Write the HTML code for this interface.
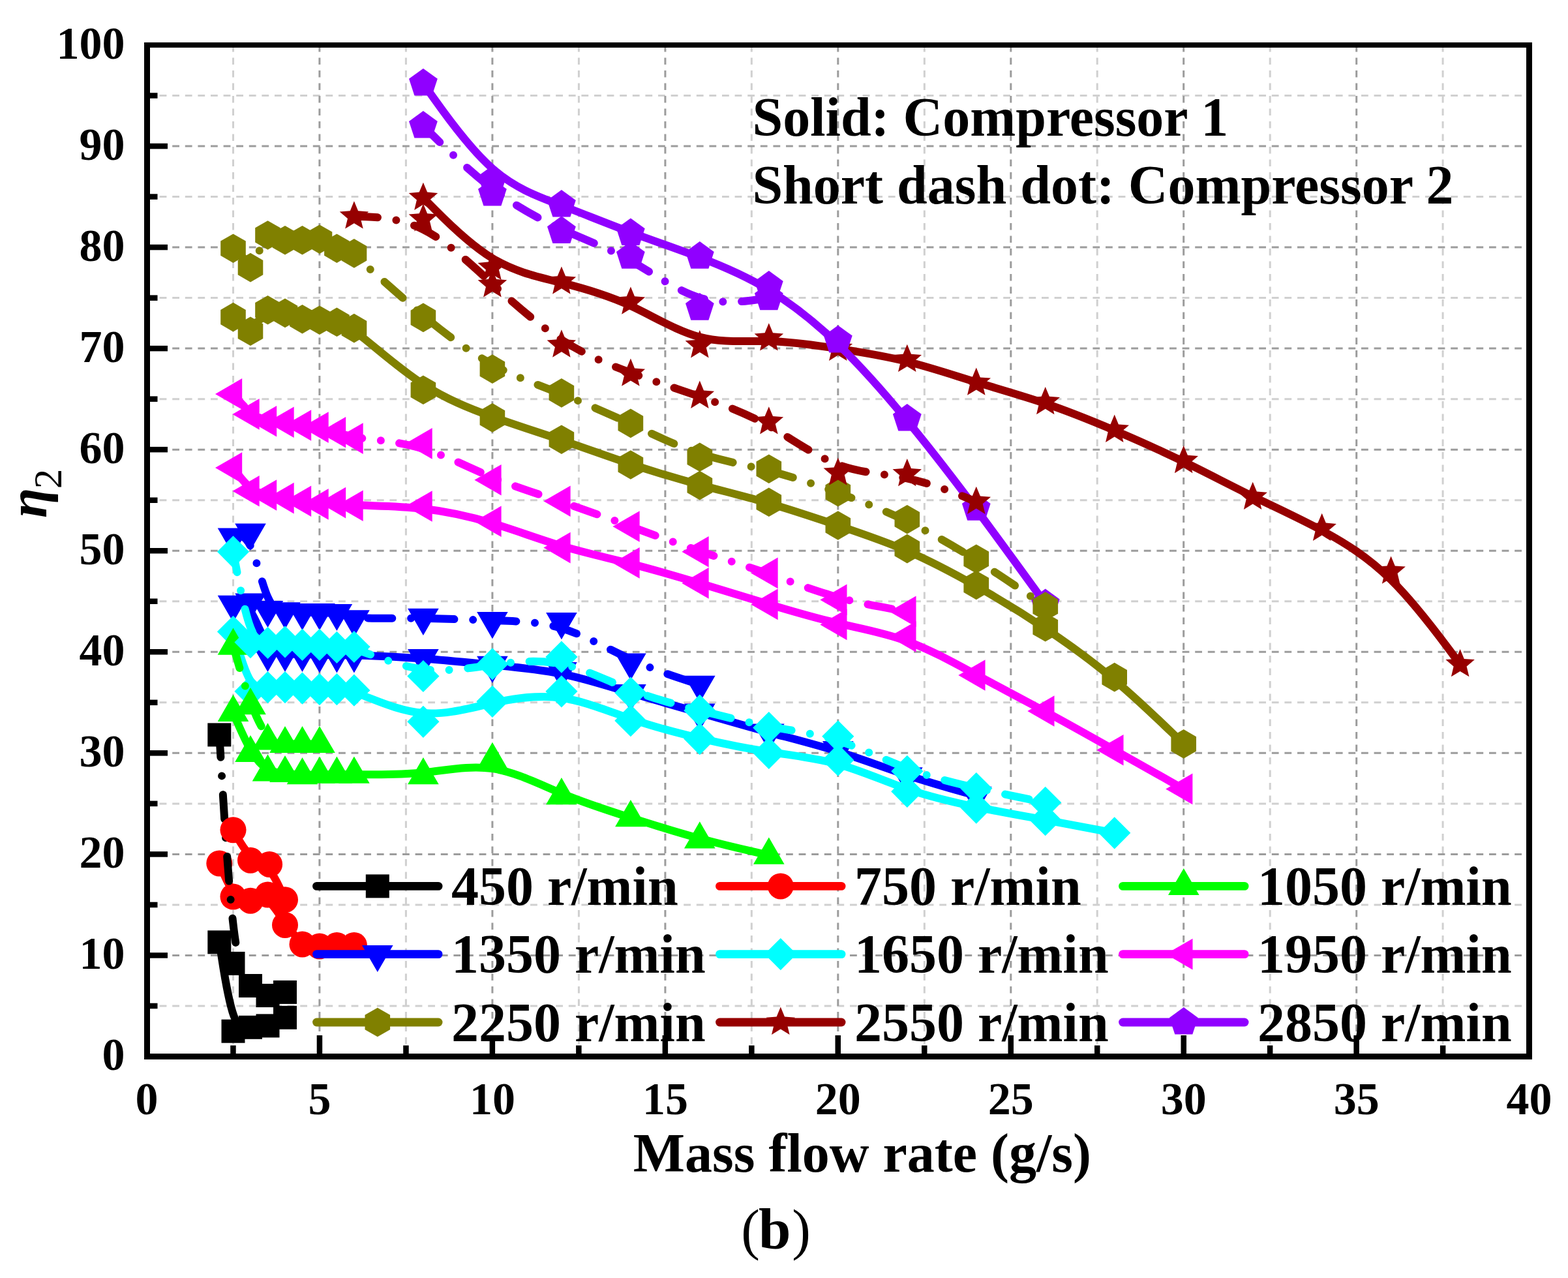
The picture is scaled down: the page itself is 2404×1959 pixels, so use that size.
<!DOCTYPE html>
<html><head><meta charset="utf-8"><title>Mass flow rate vs efficiency</title>
<style>html,body{margin:0;padding:0;background:#fff;} svg{display:block;}</style>
</head><body>
<svg width="2404" height="1959" viewBox="0 0 2404 1959">
<rect x="0" y="0" width="2404" height="1959" fill="#ffffff"/>
<g stroke="#d0d0d0" stroke-width="3"><g stroke-dasharray="10.6 8.9"><line x1="357.5" y1="69" x2="357.5" y2="1619.5"/><line x1="622.4" y1="69" x2="622.4" y2="1619.5"/><line x1="887.4" y1="69" x2="887.4" y2="1619.5"/><line x1="1152.3" y1="69" x2="1152.3" y2="1619.5"/><line x1="1417.3" y1="69" x2="1417.3" y2="1619.5"/><line x1="1682.2" y1="69" x2="1682.2" y2="1619.5"/><line x1="1947.2" y1="69" x2="1947.2" y2="1619.5"/><line x1="2212.1" y1="69" x2="2212.1" y2="1619.5"/></g><g stroke-dasharray="10.8 8.8"><line x1="225" y1="1542" x2="2345" y2="1542"/><line x1="225" y1="1386.9" x2="2345" y2="1386.9"/><line x1="225" y1="1231.9" x2="2345" y2="1231.9"/><line x1="225" y1="1076.8" x2="2345" y2="1076.8"/><line x1="225" y1="921.8" x2="2345" y2="921.8"/><line x1="225" y1="766.7" x2="2345" y2="766.7"/><line x1="225" y1="611.7" x2="2345" y2="611.7"/><line x1="225" y1="456.6" x2="2345" y2="456.6"/><line x1="225" y1="301.6" x2="2345" y2="301.6"/><line x1="225" y1="146.5" x2="2345" y2="146.5"/></g></g>
<g stroke="#9c9c9c" stroke-width="3"><g stroke-dasharray="10.6 8.9"><line x1="489.9" y1="69" x2="489.9" y2="1619.5"/><line x1="754.9" y1="69" x2="754.9" y2="1619.5"/><line x1="1019.9" y1="69" x2="1019.9" y2="1619.5"/><line x1="1284.8" y1="69" x2="1284.8" y2="1619.5"/><line x1="1549.8" y1="69" x2="1549.8" y2="1619.5"/><line x1="1814.7" y1="69" x2="1814.7" y2="1619.5"/><line x1="2079.7" y1="69" x2="2079.7" y2="1619.5"/></g><g stroke-dasharray="10.8 8.8"><line x1="225" y1="1464.5" x2="2345" y2="1464.5"/><line x1="225" y1="1309.4" x2="2345" y2="1309.4"/><line x1="225" y1="1154.3" x2="2345" y2="1154.3"/><line x1="225" y1="999.3" x2="2345" y2="999.3"/><line x1="225" y1="844.2" x2="2345" y2="844.2"/><line x1="225" y1="689.2" x2="2345" y2="689.2"/><line x1="225" y1="534.1" x2="2345" y2="534.1"/><line x1="225" y1="379.1" x2="2345" y2="379.1"/><line x1="225" y1="224" x2="2345" y2="224"/></g></g>
<path d="M336.3 1444.3C336.3 1444.3 336.3 1444.3 339.8 1467.0C343.3 1489.8 350.4 1535.3 358.4 1557.0C366.3 1578.8 375.1 1576.8 384.0 1575.4C392.8 1574.0 401.6 1573.2 410.5 1570.7C419.3 1568.2 428.1 1564.0 432.5 1561.9C437.0 1559.8 437.0 1559.8 437.0 1559.8" fill="none" stroke="#000000" stroke-width="12.0" stroke-linecap="round" stroke-linejoin="round"/>
<rect x="318.3" y="1426.3" width="36" height="36" fill="#000000"/>
<rect x="339.5" y="1562.7" width="36" height="36" fill="#000000"/>
<rect x="366" y="1556.8" width="36" height="36" fill="#000000"/>
<rect x="392.5" y="1554.4" width="36" height="36" fill="#000000"/>
<rect x="419" y="1541.8" width="36" height="36" fill="#000000"/>
<path d="M336.3 1323.4C336.3 1323.4 336.3 1323.4 339.8 1331.9C343.3 1340.4 350.4 1357.5 358.4 1367.0C366.3 1376.6 375.1 1378.7 384.0 1378.1C392.8 1377.6 401.6 1374.5 410.5 1380.7C419.3 1386.9 428.1 1402.4 437.0 1415.1C445.8 1427.8 454.6 1437.6 463.5 1443.0C472.3 1448.4 481.1 1449.5 489.9 1449.7C498.8 1450.0 507.6 1449.5 516.4 1449.2C525.3 1448.9 534.1 1448.9 538.5 1448.9C542.9 1448.9 542.9 1448.9 542.9 1448.9" fill="none" stroke="#ff0000" stroke-width="12.0" stroke-linecap="round" stroke-linejoin="round"/>
<circle cx="336.3" cy="1323.4" r="20" fill="#ff0000"/>
<circle cx="357.5" cy="1374.5" r="20" fill="#ff0000"/>
<circle cx="384" cy="1380.7" r="20" fill="#ff0000"/>
<circle cx="410.5" cy="1371.4" r="20" fill="#ff0000"/>
<circle cx="437" cy="1417.9" r="20" fill="#ff0000"/>
<circle cx="463.5" cy="1447.4" r="20" fill="#ff0000"/>
<circle cx="489.9" cy="1450.5" r="20" fill="#ff0000"/>
<circle cx="516.4" cy="1448.9" r="20" fill="#ff0000"/>
<circle cx="542.9" cy="1448.9" r="20" fill="#ff0000"/>
<path d="M357.5 1092.3C357.5 1092.3 357.5 1092.3 361.9 1102.7C366.3 1113.0 375.1 1133.7 384.0 1148.9C392.8 1164.2 401.6 1174.0 410.5 1179.2C419.3 1184.3 428.1 1184.8 437.0 1185.6C445.8 1186.4 454.6 1187.4 463.5 1187.7C472.3 1187.9 481.1 1187.4 489.9 1187.2C498.8 1186.9 507.6 1186.9 516.4 1186.9C525.3 1186.9 534.1 1186.9 556.2 1187.2C578.3 1187.4 613.6 1187.9 648.9 1184.3C684.2 1180.7 719.6 1173.0 754.9 1178.1C790.2 1183.3 825.6 1201.4 860.9 1216.1C896.2 1230.8 931.5 1242.2 966.9 1253.4C1002.2 1264.6 1037.5 1275.7 1072.8 1285.3C1108.2 1294.8 1143.5 1302.9 1161.2 1306.9C1178.8 1311.0 1178.8 1311.0 1178.8 1311.0" fill="none" stroke="#00ff00" stroke-width="12.0" stroke-linecap="round" stroke-linejoin="round"/>
<polygon points="357.5,1064.8 381.3,1106.1 333.7,1106.1" fill="#00ff00"/>
<polygon points="384,1126.9 407.8,1168.1 360.2,1168.1" fill="#00ff00"/>
<polygon points="410.5,1156.3 434.3,1197.6 386.7,1197.6" fill="#00ff00"/>
<polygon points="437,1157.9 460.8,1199.1 413.2,1199.1" fill="#00ff00"/>
<polygon points="463.5,1161 487.3,1202.2 439.7,1202.2" fill="#00ff00"/>
<polygon points="489.9,1159.4 513.8,1200.7 466.1,1200.7" fill="#00ff00"/>
<polygon points="516.4,1159.4 540.2,1200.7 492.6,1200.7" fill="#00ff00"/>
<polygon points="542.9,1159.4 566.7,1200.7 519.1,1200.7" fill="#00ff00"/>
<polygon points="648.9,1161 672.7,1202.2 625.1,1202.2" fill="#00ff00"/>
<polygon points="754.9,1137.7 778.7,1178.9 731.1,1178.9" fill="#00ff00"/>
<polygon points="860.9,1192 884.7,1233.2 837.1,1233.2" fill="#00ff00"/>
<polygon points="966.9,1226.1 990.7,1267.3 943.1,1267.3" fill="#00ff00"/>
<polygon points="1072.8,1259.3 1096.6,1300.5 1049,1300.5" fill="#00ff00"/>
<polygon points="1178.8,1283.5 1202.6,1324.7 1155,1324.7" fill="#00ff00"/>
<path d="M357.5 926.4C357.5 926.4 357.5 926.4 361.9 925.9C366.3 925.4 375.1 924.4 384.0 937.0C392.8 949.7 401.6 976.0 410.5 989.2C419.3 1002.4 428.1 1002.4 437.0 1002.4C445.8 1002.4 454.6 1002.4 463.5 1002.7C472.3 1002.9 481.1 1003.4 489.9 1003.7C498.8 1004.0 507.6 1004.0 516.4 1004.0C525.3 1004.0 534.1 1004.0 556.2 1004.7C578.3 1005.5 613.6 1007.1 648.9 1009.6C684.2 1012.2 719.6 1015.8 754.9 1019.2C790.2 1022.6 825.6 1025.7 860.9 1032.9C896.2 1040.1 931.5 1051.5 966.9 1062.1C1002.2 1072.7 1037.5 1082.5 1072.8 1092.6C1108.2 1102.7 1143.5 1113.0 1178.8 1122.6C1214.1 1132.1 1249.5 1140.9 1284.8 1152.0C1320.1 1163.1 1355.5 1176.6 1390.8 1188.2C1426.1 1199.8 1461.4 1209.7 1479.1 1214.6C1496.8 1219.5 1496.8 1219.5 1496.8 1219.5" fill="none" stroke="#0000ff" stroke-width="12.0" stroke-linecap="round" stroke-linejoin="round"/>
<polygon points="357.5,953.9 381.3,912.7 333.7,912.7" fill="#0000ff"/>
<polygon points="384,950.8 407.8,909.6 360.2,909.6" fill="#0000ff"/>
<polygon points="410.5,1029.9 434.3,988.7 386.7,988.7" fill="#0000ff"/>
<polygon points="437,1029.9 460.8,988.7 413.2,988.7" fill="#0000ff"/>
<polygon points="463.5,1029.9 487.3,988.7 439.7,988.7" fill="#0000ff"/>
<polygon points="489.9,1031.4 513.8,990.2 466.1,990.2" fill="#0000ff"/>
<polygon points="516.4,1031.4 540.2,990.2 492.6,990.2" fill="#0000ff"/>
<polygon points="542.9,1031.4 566.7,990.2 519.1,990.2" fill="#0000ff"/>
<polygon points="648.9,1036.1 672.7,994.9 625.1,994.9" fill="#0000ff"/>
<polygon points="754.9,1046.9 778.7,1005.7 731.1,1005.7" fill="#0000ff"/>
<polygon points="860.9,1056.2 884.7,1015 837.1,1015" fill="#0000ff"/>
<polygon points="966.9,1090.4 990.7,1049.1 943.1,1049.1" fill="#0000ff"/>
<polygon points="1072.8,1119.8 1096.6,1078.6 1049,1078.6" fill="#0000ff"/>
<polygon points="1178.8,1150.8 1202.6,1109.6 1155,1109.6" fill="#0000ff"/>
<polygon points="1284.8,1177.2 1308.6,1136 1261,1136" fill="#0000ff"/>
<polygon points="1390.8,1217.5 1414.6,1176.3 1367,1176.3" fill="#0000ff"/>
<polygon points="1496.8,1247 1520.6,1205.7 1473,1205.7" fill="#0000ff"/>
<path d="M357.5 968.3C357.5 968.3 357.5 968.3 361.9 983.5C366.3 998.8 375.1 1029.3 384.0 1043.5C392.8 1057.7 401.6 1055.6 410.5 1054.6C419.3 1053.6 428.1 1053.6 437.0 1053.8C445.8 1054.1 454.6 1054.6 463.5 1055.1C472.3 1055.6 481.1 1056.2 489.9 1056.4C498.8 1056.7 507.6 1056.7 516.4 1056.9C525.3 1057.2 534.1 1057.7 556.2 1066.0C578.3 1074.2 613.6 1090.3 648.9 1093.1C684.2 1095.9 719.6 1085.6 754.9 1077.9C790.2 1070.1 825.6 1064.9 860.9 1069.8C896.2 1074.8 931.5 1089.7 966.9 1101.9C1002.2 1114.0 1037.5 1123.3 1072.8 1131.6C1108.2 1139.9 1143.5 1147.1 1178.8 1152.5C1214.1 1158.0 1249.5 1161.6 1284.8 1171.4C1320.1 1181.2 1355.5 1197.2 1390.8 1209.4C1426.1 1221.5 1461.4 1229.8 1496.8 1237.0C1532.1 1244.3 1567.4 1250.5 1602.7 1256.9C1638.1 1263.4 1673.4 1270.1 1691.1 1273.5C1708.7 1276.8 1708.7 1276.8 1708.7 1276.8" fill="none" stroke="#00ffff" stroke-width="12.0" stroke-linecap="round" stroke-linejoin="round"/>
<polygon points="357.5,943.7 382.1,968.3 357.5,992.9 332.9,968.3" fill="#00ffff"/>
<polygon points="384,1035.2 408.6,1059.8 384,1084.4 359.4,1059.8" fill="#00ffff"/>
<polygon points="410.5,1029 435.1,1053.6 410.5,1078.2 385.9,1053.6" fill="#00ffff"/>
<polygon points="437,1029 461.6,1053.6 437,1078.2 412.4,1053.6" fill="#00ffff"/>
<polygon points="463.5,1030.5 488.1,1055.1 463.5,1079.7 438.9,1055.1" fill="#00ffff"/>
<polygon points="489.9,1032.1 514.5,1056.7 489.9,1081.3 465.3,1056.7" fill="#00ffff"/>
<polygon points="516.4,1032.1 541,1056.7 516.4,1081.3 491.8,1056.7" fill="#00ffff"/>
<polygon points="542.9,1033.6 567.5,1058.2 542.9,1082.8 518.3,1058.2" fill="#00ffff"/>
<polygon points="648.9,1081.7 673.5,1106.3 648.9,1130.9 624.3,1106.3" fill="#00ffff"/>
<polygon points="754.9,1050.7 779.5,1075.3 754.9,1099.9 730.3,1075.3" fill="#00ffff"/>
<polygon points="860.9,1035.2 885.5,1059.8 860.9,1084.4 836.3,1059.8" fill="#00ffff"/>
<polygon points="966.9,1080.1 991.5,1104.7 966.9,1129.3 942.3,1104.7" fill="#00ffff"/>
<polygon points="1072.8,1108 1097.4,1132.6 1072.8,1157.2 1048.2,1132.6" fill="#00ffff"/>
<polygon points="1178.8,1129.8 1203.4,1154.3 1178.8,1178.9 1154.2,1154.3" fill="#00ffff"/>
<polygon points="1284.8,1140.6 1309.4,1165.2 1284.8,1189.8 1260.2,1165.2" fill="#00ffff"/>
<polygon points="1390.8,1188.7 1415.4,1213.3 1390.8,1237.9 1366.2,1213.3" fill="#00ffff"/>
<polygon points="1496.8,1213.5 1521.4,1238.1 1496.8,1262.7 1472.2,1238.1" fill="#00ffff"/>
<polygon points="1602.7,1232.1 1627.3,1256.7 1602.7,1281.3 1578.1,1256.7" fill="#00ffff"/>
<polygon points="1708.7,1252.2 1733.3,1276.8 1708.7,1301.4 1684.1,1276.8" fill="#00ffff"/>
<path d="M357.5 717.1C357.5 717.1 357.5 717.1 361.9 723.1C366.3 729.0 375.1 740.9 384.0 747.9C392.8 754.8 401.6 756.9 410.5 758.7C419.3 760.5 428.1 762.1 437.0 763.6C445.8 765.2 454.6 766.7 463.5 768.3C472.3 769.8 481.1 771.4 489.9 771.8C498.8 772.2 507.6 771.4 516.4 771.8C525.3 772.2 534.1 773.7 556.2 774.6C578.3 775.5 613.6 775.8 648.9 779.8C684.2 783.8 719.6 791.5 754.9 802.1C790.2 812.7 825.6 826.2 860.9 836.8C896.2 847.4 931.5 855.1 966.9 864.1C1002.2 873.2 1037.5 883.5 1072.8 894.1C1108.2 904.7 1143.5 915.6 1178.8 926.2C1214.1 936.8 1249.5 947.1 1284.8 955.4C1320.1 963.6 1355.5 969.8 1390.8 982.8C1426.1 995.7 1461.4 1015.3 1496.8 1034.3C1532.1 1053.3 1567.4 1071.7 1602.7 1090.8C1638.1 1109.9 1673.4 1129.8 1708.7 1149.7C1744.0 1169.6 1779.4 1189.5 1797.0 1199.4C1814.7 1209.4 1814.7 1209.4 1814.7 1209.4" fill="none" stroke="#ff00ff" stroke-width="12.0" stroke-linecap="round" stroke-linejoin="round"/>
<polygon points="330,717.1 371.2,693.3 371.2,740.9" fill="#ff00ff"/>
<polygon points="356.5,752.8 397.7,729 397.7,776.6" fill="#ff00ff"/>
<polygon points="383,759 424.2,735.2 424.2,782.8" fill="#ff00ff"/>
<polygon points="409.5,763.6 450.7,739.8 450.7,787.4" fill="#ff00ff"/>
<polygon points="436,768.3 477.2,744.5 477.2,792.1" fill="#ff00ff"/>
<polygon points="462.5,772.9 503.7,749.1 503.7,796.7" fill="#ff00ff"/>
<polygon points="489,770.6 530.2,746.8 530.2,794.4" fill="#ff00ff"/>
<polygon points="515.5,775.3 556.7,751.5 556.7,799.1" fill="#ff00ff"/>
<polygon points="621.4,776 662.7,752.2 662.7,799.8" fill="#ff00ff"/>
<polygon points="727.4,799.3 768.6,775.5 768.6,823.1" fill="#ff00ff"/>
<polygon points="833.4,839.6 874.6,815.8 874.6,863.4" fill="#ff00ff"/>
<polygon points="939.4,862.9 980.6,839.1 980.6,886.7" fill="#ff00ff"/>
<polygon points="1045.4,893.9 1086.6,870.1 1086.6,917.7" fill="#ff00ff"/>
<polygon points="1151.3,926.4 1192.6,902.6 1192.6,950.2" fill="#ff00ff"/>
<polygon points="1257.3,957.4 1298.5,933.6 1298.5,981.2" fill="#ff00ff"/>
<polygon points="1363.3,976 1404.5,952.2 1404.5,999.8" fill="#ff00ff"/>
<polygon points="1469.3,1035 1510.5,1011.2 1510.5,1058.8" fill="#ff00ff"/>
<polygon points="1575.3,1090 1616.5,1066.2 1616.5,1113.8" fill="#ff00ff"/>
<polygon points="1681.2,1149.7 1722.5,1125.9 1722.5,1173.5" fill="#ff00ff"/>
<polygon points="1787.2,1209.4 1828.4,1185.6 1828.4,1233.2" fill="#ff00ff"/>
<path d="M357.5 486.1C357.5 486.1 357.5 486.1 361.9 489.7C366.3 493.3 375.1 500.6 384.0 498.7C392.8 496.9 401.6 486.1 410.5 481.4C419.3 476.8 428.1 478.3 437.0 480.7C445.8 483.0 454.6 486.1 463.5 487.9C472.3 489.7 481.1 490.2 489.9 491.0C498.8 491.8 507.6 492.8 516.4 494.9C525.3 496.9 534.1 500.0 556.2 517.4C578.3 534.7 613.6 566.2 648.9 589.1C684.2 611.9 719.6 626.1 754.9 638.8C790.2 651.5 825.6 662.6 860.9 674.6C896.2 686.6 931.5 699.5 966.9 711.3C1002.2 723.0 1037.5 733.5 1072.8 743.1C1108.2 752.7 1143.5 761.2 1178.8 771.5C1214.1 781.7 1249.5 793.6 1284.8 805.5C1320.1 817.4 1355.5 829.3 1390.8 844.5C1426.1 859.8 1461.4 878.4 1496.8 898.4C1532.1 918.4 1567.4 939.9 1602.7 963.4C1638.1 986.9 1673.4 1012.5 1708.7 1042.3C1744.0 1072.2 1779.4 1106.3 1797.0 1123.3C1814.7 1140.4 1814.7 1140.4 1814.7 1140.4" fill="none" stroke="#808000" stroke-width="12.0" stroke-linecap="round" stroke-linejoin="round"/>
<polygon points="357.5,463.8 376.8,474.9 376.8,497.2 357.5,508.4 338.2,497.2 338.2,474.9" fill="#808000"/>
<polygon points="384,485.5 403.3,496.6 403.3,518.9 384,530.1 364.7,518.9 364.7,496.6" fill="#808000"/>
<polygon points="410.5,452.9 429.8,464.1 429.8,486.4 410.5,497.5 391.2,486.4 391.2,464.1" fill="#808000"/>
<polygon points="437,457.6 456.3,468.7 456.3,491 437,502.2 417.6,491 417.6,468.7" fill="#808000"/>
<polygon points="463.5,466.9 482.8,478 482.8,500.3 463.5,511.5 444.1,500.3 444.1,478" fill="#808000"/>
<polygon points="489.9,468.4 509.3,479.6 509.3,501.9 489.9,513 470.6,501.9 470.6,479.6" fill="#808000"/>
<polygon points="516.4,471.5 535.8,482.7 535.8,505 516.4,516.1 497.1,505 497.1,482.7" fill="#808000"/>
<polygon points="542.9,480.8 562.3,492 562.3,514.3 542.9,525.4 523.6,514.3 523.6,492" fill="#808000"/>
<polygon points="648.9,575.4 668.2,586.6 668.2,608.9 648.9,620 629.6,608.9 629.6,586.6" fill="#808000"/>
<polygon points="754.9,618.1 774.2,629.2 774.2,651.5 754.9,662.7 735.6,651.5 735.6,629.2" fill="#808000"/>
<polygon points="860.9,651.4 880.2,662.5 880.2,684.8 860.9,696 841.6,684.8 841.6,662.5" fill="#808000"/>
<polygon points="966.9,690.2 986.2,701.3 986.2,723.6 966.9,734.8 947.5,723.6 947.5,701.3" fill="#808000"/>
<polygon points="1072.8,721.8 1092.2,732.9 1092.2,755.2 1072.8,766.4 1053.5,755.2 1053.5,732.9" fill="#808000"/>
<polygon points="1178.8,747.5 1198.1,758.7 1198.1,781 1178.8,792.1 1159.5,781 1159.5,758.7" fill="#808000"/>
<polygon points="1284.8,783.2 1304.1,794.3 1304.1,816.6 1284.8,827.8 1265.5,816.6 1265.5,794.3" fill="#808000"/>
<polygon points="1390.8,818.8 1410.1,830 1410.1,852.3 1390.8,863.4 1371.5,852.3 1371.5,830" fill="#808000"/>
<polygon points="1496.8,874.7 1516.1,885.8 1516.1,908.1 1496.8,919.3 1477.4,908.1 1477.4,885.8" fill="#808000"/>
<polygon points="1602.7,939 1622.1,950.2 1622.1,972.5 1602.7,983.6 1583.4,972.5 1583.4,950.2" fill="#808000"/>
<polygon points="1708.7,1015.8 1728,1026.9 1728,1049.2 1708.7,1060.4 1689.4,1049.2 1689.4,1026.9" fill="#808000"/>
<polygon points="1814.7,1118.1 1834,1129.2 1834,1151.5 1814.7,1162.7 1795.4,1151.5 1795.4,1129.2" fill="#808000"/>
<path d="M648.9 303.1C648.9 303.1 648.9 303.1 666.6 321.0C684.2 338.8 719.6 374.4 754.9 395.9C790.2 417.3 825.6 424.6 860.9 433.4C896.2 442.2 931.5 452.5 966.9 468.8C1002.2 485.1 1037.5 507.3 1072.8 516.6C1108.2 525.9 1143.5 522.3 1178.8 523.0C1214.1 523.8 1249.5 529.0 1284.8 534.4C1320.1 539.8 1355.5 545.5 1390.8 554.3C1426.1 563.1 1461.4 575.0 1496.8 585.8C1532.1 596.7 1567.4 606.5 1602.7 618.5C1638.1 630.5 1673.4 644.8 1708.7 659.7C1744.0 674.7 1779.4 690.5 1814.7 707.7C1850.0 724.9 1885.4 743.5 1920.7 760.8C1956.0 778.1 1991.3 794.1 2026.7 813.1C2062.0 832.1 2097.3 854.0 2132.6 888.7C2168.0 923.4 2203.3 970.9 2221.0 994.6C2238.6 1018.4 2238.6 1018.4 2238.6 1018.4" fill="none" stroke="#960000" stroke-width="12.0" stroke-linecap="round" stroke-linejoin="round"/>
<polygon points="648.9,279.7 642.7,294.6 626.7,295.9 638.9,306.4 635.2,322.1 648.9,313.6 662.7,322.1 658.9,306.4 671.2,295.9 655.1,294.6" fill="#960000"/>
<polygon points="754.9,386.7 748.7,401.6 732.6,402.9 744.9,413.4 741.1,429 754.9,420.6 768.7,429 764.9,413.4 777.2,402.9 761.1,401.6" fill="#960000"/>
<polygon points="860.9,408.4 854.7,423.3 838.6,424.6 850.9,435.1 847.1,450.7 860.9,442.3 874.6,450.7 870.9,435.1 883.1,424.6 867.1,423.3" fill="#960000"/>
<polygon points="966.9,439.4 960.7,454.3 944.6,455.6 956.9,466.1 953.1,481.8 966.9,473.3 980.6,481.8 976.8,466.1 989.1,455.6 973,454.3" fill="#960000"/>
<polygon points="1072.8,506.1 1066.7,521 1050.6,522.3 1062.9,532.7 1059.1,548.4 1072.8,540 1086.6,548.4 1082.8,532.7 1095.1,522.3 1079,521" fill="#960000"/>
<polygon points="1178.8,495.2 1172.6,510.2 1156.6,511.4 1168.8,521.9 1165.1,537.6 1178.8,529.1 1192.6,537.6 1188.8,521.9 1201.1,511.4 1185,510.2" fill="#960000"/>
<polygon points="1284.8,510.7 1278.6,525.7 1262.5,526.9 1274.8,537.4 1271,553.1 1284.8,544.6 1298.6,553.1 1294.8,537.4 1307.1,526.9 1291,525.7" fill="#960000"/>
<polygon points="1390.8,527.8 1384.6,542.7 1368.5,544 1380.8,554.5 1377,570.1 1390.8,561.7 1404.5,570.1 1400.8,554.5 1413,544 1397,542.7" fill="#960000"/>
<polygon points="1496.8,563.5 1490.6,578.4 1474.5,579.6 1486.8,590.1 1483,605.8 1496.8,597.4 1510.5,605.8 1506.7,590.1 1519,579.6 1502.9,578.4" fill="#960000"/>
<polygon points="1602.7,592.9 1596.6,607.8 1580.5,609.1 1592.8,619.6 1589,635.3 1602.7,626.8 1616.5,635.3 1612.7,619.6 1625,609.1 1608.9,607.8" fill="#960000"/>
<polygon points="1708.7,635.6 1702.5,650.5 1686.5,651.7 1698.7,662.2 1695,677.9 1708.7,669.5 1722.5,677.9 1718.7,662.2 1731,651.7 1714.9,650.5" fill="#960000"/>
<polygon points="1814.7,682.9 1808.5,697.8 1792.4,699 1804.7,709.5 1800.9,725.2 1814.7,716.8 1828.5,725.2 1824.7,709.5 1837,699 1820.9,697.8" fill="#960000"/>
<polygon points="1920.7,738.7 1914.5,753.6 1898.4,754.8 1910.7,765.3 1906.9,781 1920.7,772.6 1934.4,781 1930.7,765.3 1942.9,754.8 1926.9,753.6" fill="#960000"/>
<polygon points="2026.7,786.7 2020.5,801.6 2004.4,802.9 2016.7,813.4 2012.9,829.1 2026.7,820.6 2040.4,829.1 2036.6,813.4 2048.9,802.9 2032.8,801.6" fill="#960000"/>
<polygon points="2132.6,852.5 2126.5,867.4 2110.4,868.6 2122.7,879.1 2118.9,894.8 2132.6,886.4 2146.4,894.8 2142.6,879.1 2154.9,868.6 2138.8,867.4" fill="#960000"/>
<polygon points="2238.6,995 2232.4,1009.9 2216.4,1011.1 2228.6,1021.6 2224.9,1037.3 2238.6,1028.9 2252.4,1037.3 2248.6,1021.6 2260.9,1011.1 2244.8,1009.9" fill="#960000"/>
<path d="M648.9 127.9C648.9 127.9 648.9 127.9 666.6 152.7C684.2 177.5 719.6 227.2 754.9 258.2C790.2 289.2 825.6 301.6 860.9 315.0C896.2 328.5 931.5 342.9 966.9 356.1C1002.2 369.3 1037.5 381.2 1072.8 394.6C1108.2 408.0 1143.5 423.0 1178.8 444.5C1214.1 465.9 1249.5 493.8 1284.8 527.8C1320.1 561.8 1355.5 601.9 1390.8 644.8C1426.1 687.6 1461.4 733.4 1496.8 780.7C1532.1 827.9 1567.4 876.7 1585.1 901.1C1602.7 925.5 1602.7 925.5 1602.7 925.5" fill="none" stroke="#9000ff" stroke-width="12.0" stroke-linecap="round" stroke-linejoin="round"/>
<polygon points="648.9,104.9 627,120.8 635.4,146.5 662.4,146.5 670.8,120.8" fill="#9000ff"/>
<polygon points="754.9,253.8 733,269.7 741.4,295.4 768.4,295.4 776.8,269.7" fill="#9000ff"/>
<polygon points="860.9,291 839,306.9 847.4,332.6 874.4,332.6 882.8,306.9" fill="#9000ff"/>
<polygon points="966.9,334.4 945,350.3 953.3,376 980.4,376 988.7,350.3" fill="#9000ff"/>
<polygon points="1072.8,370.1 1051,385.9 1059.3,411.7 1086.4,411.7 1094.7,385.9" fill="#9000ff"/>
<polygon points="1178.8,415 1156.9,430.9 1165.3,456.6 1192.3,456.6 1200.7,430.9" fill="#9000ff"/>
<polygon points="1284.8,498.7 1262.9,514.6 1271.3,540.4 1298.3,540.4 1306.7,514.6" fill="#9000ff"/>
<polygon points="1390.8,618.9 1368.9,634.8 1377.3,660.5 1404.3,660.5 1412.7,634.8" fill="#9000ff"/>
<polygon points="1496.8,756.1 1474.9,772 1483.2,797.7 1510.3,797.7 1518.6,772" fill="#9000ff"/>
<polygon points="1602.7,902.5 1580.9,918.4 1589.2,944.1 1616.3,944.1 1624.6,918.4" fill="#9000ff"/>
<path d="M336.3 1126.4C336.3 1126.4 336.3 1126.4 339.8 1184.8C343.3 1243.2 350.4 1360.0 358.4 1424.1C366.3 1488.2 375.1 1499.6 384.0 1507.8C392.8 1516.0 401.6 1521.0 410.5 1522.6C419.3 1524.3 428.1 1522.6 432.5 1521.7C437.0 1520.9 437.0 1520.9 437.0 1520.9" fill="none" stroke="#000000" stroke-width="12.0" stroke-linecap="round" stroke-linejoin="round" stroke-dasharray="37.5 28.75 0 28.75" stroke-dashoffset="3"/>
<rect x="318.3" y="1108.4" width="36" height="36" fill="#000000"/>
<rect x="339.5" y="1458.9" width="36" height="36" fill="#000000"/>
<rect x="366" y="1493" width="36" height="36" fill="#000000"/>
<rect x="392.5" y="1508" width="36" height="36" fill="#000000"/>
<rect x="419" y="1502.9" width="36" height="36" fill="#000000"/>
<path d="M357.5 1272.2C357.5 1272.2 357.5 1272.2 361.9 1279.9C366.3 1287.7 375.1 1303.2 384.4 1312.0C393.7 1320.8 403.4 1322.8 412.2 1332.9C421.1 1343.0 429.0 1361.1 433.0 1370.1C437.0 1379.2 437.0 1379.2 437.0 1379.2" fill="none" stroke="#ff0000" stroke-width="12.0" stroke-linecap="round" stroke-linejoin="round" stroke-dasharray="37.5 28.75 0 28.75" stroke-dashoffset="2"/>
<circle cx="357.5" cy="1272.2" r="20" fill="#ff0000"/>
<circle cx="384" cy="1318.7" r="20" fill="#ff0000"/>
<circle cx="413.1" cy="1324.9" r="20" fill="#ff0000"/>
<circle cx="437" cy="1379.2" r="20" fill="#ff0000"/>
<path d="M357.5 990.0C357.5 990.0 357.5 990.0 361.9 1005.2C366.3 1020.5 375.1 1051.0 384.0 1075.3C392.8 1099.6 401.6 1117.7 410.5 1127.5C419.3 1137.3 428.1 1138.8 437.0 1139.6C445.8 1140.4 454.6 1140.4 463.5 1140.4C472.3 1140.4 481.1 1140.4 485.5 1140.4C489.9 1140.4 489.9 1140.4 489.9 1140.4" fill="none" stroke="#00ff00" stroke-width="12.0" stroke-linecap="round" stroke-linejoin="round" stroke-dasharray="37.5 28.75 0 28.75" stroke-dashoffset="2"/>
<polygon points="357.5,962.5 381.3,1003.7 333.7,1003.7" fill="#00ff00"/>
<polygon points="384,1054 407.8,1095.2 360.2,1095.2" fill="#00ff00"/>
<polygon points="410.5,1108.3 434.3,1149.5 386.7,1149.5" fill="#00ff00"/>
<polygon points="437,1112.9 460.8,1154.1 413.2,1154.1" fill="#00ff00"/>
<polygon points="463.5,1112.9 487.3,1154.1 439.7,1154.1" fill="#00ff00"/>
<polygon points="489.9,1112.9 513.8,1154.1 466.1,1154.1" fill="#00ff00"/>
<path d="M357.5 823.3C357.5 823.3 357.5 823.3 361.9 822.2C366.3 821.0 375.1 818.7 384.0 837.2C392.8 855.8 401.6 895.2 410.5 915.3C419.3 935.4 428.1 936.2 437.0 936.9C445.8 937.6 454.6 938.2 463.5 938.5C472.3 938.8 481.1 938.8 489.9 939.0C498.8 939.1 507.6 939.3 516.4 941.1C525.3 942.8 534.1 945.9 556.2 947.1C578.3 948.2 613.6 947.4 648.9 947.9C684.2 948.3 719.6 950.1 754.9 951.1C790.2 952.2 825.6 952.5 860.9 963.0C896.2 973.6 931.5 994.4 966.9 1010.6C1002.2 1026.7 1037.5 1038.1 1055.2 1043.8C1072.8 1049.5 1072.8 1049.5 1072.8 1049.5" fill="none" stroke="#0000ff" stroke-width="12.0" stroke-linecap="round" stroke-linejoin="round" stroke-dasharray="37.5 28.75 0 28.75" stroke-dashoffset="4.2"/>
<polygon points="357.5,850.8 381.3,809.6 333.7,809.6" fill="#0000ff"/>
<polygon points="384,843.8 407.8,802.6 360.2,802.6" fill="#0000ff"/>
<polygon points="410.5,962.1 434.3,920.9 386.7,920.9" fill="#0000ff"/>
<polygon points="437,964.5 460.8,923.2 413.2,923.2" fill="#0000ff"/>
<polygon points="463.5,966.3 487.3,925.1 439.7,925.1" fill="#0000ff"/>
<polygon points="489.9,966.3 513.8,925.1 466.1,925.1" fill="#0000ff"/>
<polygon points="516.4,967.1 540.2,925.9 492.6,925.9" fill="#0000ff"/>
<polygon points="542.9,976.5 566.7,935.3 519.1,935.3" fill="#0000ff"/>
<polygon points="648.9,974.1 672.7,932.8 625.1,932.8" fill="#0000ff"/>
<polygon points="754.9,979.3 778.7,938.1 731.1,938.1" fill="#0000ff"/>
<polygon points="860.9,980.3 884.7,939 837.1,939" fill="#0000ff"/>
<polygon points="966.9,1042.8 990.7,1001.5 943.1,1001.5" fill="#0000ff"/>
<polygon points="1072.8,1077 1096.6,1035.8 1049,1035.8" fill="#0000ff"/>
<path d="M357.5 845.8C357.5 845.8 357.5 845.8 361.9 868.9C366.3 892.1 375.1 938.3 384.0 961.6C392.8 984.8 401.6 985.1 410.5 985.0C419.3 984.8 428.1 984.3 437.0 984.8C445.8 985.3 454.6 986.9 463.5 987.7C472.3 988.4 481.1 988.4 489.9 989.1C498.8 989.7 507.6 991.0 516.4 991.5C525.3 992.1 534.1 991.8 556.2 999.2C578.3 1006.5 613.6 1021.5 648.9 1025.9C684.2 1030.3 719.6 1024.1 754.9 1019.2C790.2 1014.3 825.6 1010.7 860.9 1018.0C896.2 1025.4 931.5 1043.7 966.9 1057.4C1002.2 1071.1 1037.5 1080.2 1072.8 1089.1C1108.2 1098.0 1143.5 1106.8 1178.8 1113.4C1214.1 1120.0 1249.5 1124.4 1284.8 1135.5C1320.1 1146.6 1355.5 1164.4 1390.8 1177.7C1426.1 1191.0 1461.4 1199.8 1496.8 1207.8C1532.1 1215.9 1567.4 1223.1 1585.1 1226.7C1602.7 1230.3 1602.7 1230.3 1602.7 1230.3" fill="none" stroke="#00ffff" stroke-width="12.0" stroke-linecap="round" stroke-linejoin="round" stroke-dasharray="37.5 28.75 0 28.75" stroke-dashoffset="5.5"/>
<polygon points="357.5,821.2 382.1,845.8 357.5,870.4 332.9,845.8" fill="#00ffff"/>
<polygon points="384,960 408.6,984.6 384,1009.2 359.4,984.6" fill="#00ffff"/>
<polygon points="410.5,960.7 435.1,985.3 410.5,1009.9 385.9,985.3" fill="#00ffff"/>
<polygon points="437,959.2 461.6,983.8 437,1008.4 412.4,983.8" fill="#00ffff"/>
<polygon points="463.5,963.8 488.1,988.4 463.5,1013 438.9,988.4" fill="#00ffff"/>
<polygon points="489.9,963.8 514.5,988.4 489.9,1013 465.3,988.4" fill="#00ffff"/>
<polygon points="516.4,967.7 541,992.3 516.4,1016.9 491.8,992.3" fill="#00ffff"/>
<polygon points="542.9,966.9 567.5,991.5 542.9,1016.1 518.3,991.5" fill="#00ffff"/>
<polygon points="648.9,1011.9 673.5,1036.5 648.9,1061.1 624.3,1036.5" fill="#00ffff"/>
<polygon points="754.9,993.3 779.5,1017.9 754.9,1042.5 730.3,1017.9" fill="#00ffff"/>
<polygon points="860.9,982.5 885.5,1007.1 860.9,1031.7 836.3,1007.1" fill="#00ffff"/>
<polygon points="966.9,1037.5 991.5,1062.1 966.9,1086.7 942.3,1062.1" fill="#00ffff"/>
<polygon points="1072.8,1064.6 1097.4,1089.2 1072.8,1113.8 1048.2,1089.2" fill="#00ffff"/>
<polygon points="1178.8,1091 1203.4,1115.6 1178.8,1140.2 1154.2,1115.6" fill="#00ffff"/>
<polygon points="1284.8,1104.2 1309.4,1128.8 1284.8,1153.4 1260.2,1128.8" fill="#00ffff"/>
<polygon points="1390.8,1157.7 1415.4,1182.3 1390.8,1206.9 1366.2,1182.3" fill="#00ffff"/>
<polygon points="1496.8,1184 1521.4,1208.6 1496.8,1233.2 1472.2,1208.6" fill="#00ffff"/>
<polygon points="1602.7,1205.7 1627.3,1230.3 1602.7,1254.9 1578.1,1230.3" fill="#00ffff"/>
<path d="M357.5 603.9C357.5 603.9 357.5 603.9 361.9 609.1C366.3 614.3 375.1 624.6 384.0 631.6C392.8 638.6 401.6 642.2 410.5 644.2C419.3 646.3 428.1 646.8 437.0 647.9C445.8 648.9 454.6 650.4 463.5 651.7C472.3 653.0 481.1 654.1 489.9 655.9C498.8 657.7 507.6 660.3 516.4 663.1C525.3 665.9 534.1 669.0 556.2 671.9C578.3 674.7 613.6 677.3 648.9 687.9C684.2 698.5 719.6 717.1 754.9 731.8C790.2 746.6 825.6 757.4 860.9 769.3C896.2 781.2 931.5 794.1 966.9 807.0C1002.2 820.0 1037.5 832.9 1072.8 844.8C1108.2 856.7 1143.5 867.5 1178.8 879.8C1214.1 892.1 1249.5 905.8 1284.8 915.6C1320.1 925.4 1355.5 931.3 1373.1 934.3C1390.8 937.3 1390.8 937.3 1390.8 937.3" fill="none" stroke="#ff00ff" stroke-width="12.0" stroke-linecap="round" stroke-linejoin="round" stroke-dasharray="37.5 28.75 0 28.75" stroke-dashoffset="11.8"/>
<polygon points="330,603.9 371.2,580.1 371.2,627.7" fill="#ff00ff"/>
<polygon points="356.5,634.9 397.7,611.1 397.7,658.7" fill="#ff00ff"/>
<polygon points="383,645.8 424.2,622 424.2,669.6" fill="#ff00ff"/>
<polygon points="409.5,647.3 450.7,623.5 450.7,671.1" fill="#ff00ff"/>
<polygon points="436,652 477.2,628.2 477.2,675.8" fill="#ff00ff"/>
<polygon points="462.5,655.1 503.7,631.3 503.7,678.9" fill="#ff00ff"/>
<polygon points="489,662.8 530.2,639 530.2,686.6" fill="#ff00ff"/>
<polygon points="515.5,672.1 556.7,648.3 556.7,695.9" fill="#ff00ff"/>
<polygon points="621.4,679.9 662.7,656.1 662.7,703.7" fill="#ff00ff"/>
<polygon points="727.4,735.7 768.6,711.9 768.6,759.5" fill="#ff00ff"/>
<polygon points="833.4,768.3 874.6,744.5 874.6,792.1" fill="#ff00ff"/>
<polygon points="939.4,807 980.6,783.2 980.6,830.8" fill="#ff00ff"/>
<polygon points="1045.4,845.8 1086.6,822 1086.6,869.6" fill="#ff00ff"/>
<polygon points="1151.3,878.4 1192.6,854.6 1192.6,902.2" fill="#ff00ff"/>
<polygon points="1257.3,919.4 1298.5,895.6 1298.5,943.2" fill="#ff00ff"/>
<polygon points="1363.3,937.3 1404.5,913.5 1404.5,961.1" fill="#ff00ff"/>
<path d="M357.5 380.7C357.5 380.7 357.5 380.7 361.9 385.6C366.3 390.5 375.1 400.3 384.0 396.9C392.8 393.6 401.6 377.0 410.5 370.1C419.3 363.1 428.1 365.7 437.0 367.0C445.8 368.2 454.6 368.2 463.5 368.0C472.3 367.7 481.1 367.2 489.9 369.3C498.8 371.3 507.6 376.0 516.4 379.6C525.3 383.2 534.1 385.8 556.2 403.5C578.3 421.2 613.6 454.0 648.9 483.6C684.2 513.1 719.6 539.4 754.9 558.6C790.2 577.9 825.6 590.1 860.9 604.0C896.2 617.9 931.5 633.4 966.9 649.8C1002.2 666.2 1037.5 683.5 1072.8 695.1C1108.2 706.8 1143.5 712.7 1178.8 721.6C1214.1 730.5 1249.5 742.4 1284.8 755.4C1320.1 768.3 1355.5 782.2 1390.8 799.3C1426.1 816.3 1461.4 836.5 1496.8 858.7C1532.1 880.9 1567.4 905.2 1585.1 917.4C1602.7 929.5 1602.7 929.5 1602.7 929.5" fill="none" stroke="#808000" stroke-width="12.0" stroke-linecap="round" stroke-linejoin="round" stroke-dasharray="37.5 28.75 0 28.75" stroke-dashoffset="14.5"/>
<polygon points="357.5,358.4 376.8,369.5 376.8,391.8 357.5,403 338.2,391.8 338.2,369.5" fill="#808000"/>
<polygon points="384,387.8 403.3,399 403.3,421.3 384,432.4 364.7,421.3 364.7,399" fill="#808000"/>
<polygon points="410.5,338.2 429.8,349.3 429.8,371.6 410.5,382.8 391.2,371.6 391.2,349.3" fill="#808000"/>
<polygon points="437,345.9 456.3,357.1 456.3,379.4 437,390.5 417.6,379.4 417.6,357.1" fill="#808000"/>
<polygon points="463.5,345.9 482.8,357.1 482.8,379.4 463.5,390.5 444.1,379.4 444.1,357.1" fill="#808000"/>
<polygon points="489.9,344.4 509.3,355.5 509.3,377.8 489.9,389 470.6,377.8 470.6,355.5" fill="#808000"/>
<polygon points="516.4,358.4 535.8,369.5 535.8,391.8 516.4,403 497.1,391.8 497.1,369.5" fill="#808000"/>
<polygon points="542.9,366.1 562.3,377.3 562.3,399.6 542.9,410.7 523.6,399.6 523.6,377.3" fill="#808000"/>
<polygon points="648.9,464.6 668.2,475.7 668.2,498 648.9,509.2 629.6,498 629.6,475.7" fill="#808000"/>
<polygon points="754.9,543.3 774.2,554.5 774.2,576.8 754.9,587.9 735.6,576.8 735.6,554.5" fill="#808000"/>
<polygon points="860.9,580.1 880.2,591.2 880.2,613.5 860.9,624.7 841.6,613.5 841.6,591.2" fill="#808000"/>
<polygon points="966.9,626.6 986.2,637.7 986.2,660 966.9,671.2 947.5,660 947.5,637.7" fill="#808000"/>
<polygon points="1072.8,678.5 1092.2,689.7 1092.2,712 1072.8,723.1 1053.5,712 1053.5,689.7" fill="#808000"/>
<polygon points="1178.8,696.4 1198.1,707.5 1198.1,729.8 1178.8,741 1159.5,729.8 1159.5,707.5" fill="#808000"/>
<polygon points="1284.8,732 1304.1,743.2 1304.1,765.5 1284.8,776.6 1265.5,765.5 1265.5,743.2" fill="#808000"/>
<polygon points="1390.8,773.9 1410.1,785 1410.1,807.3 1390.8,818.5 1371.5,807.3 1371.5,785" fill="#808000"/>
<polygon points="1496.8,834.4 1516.1,845.5 1516.1,867.8 1496.8,879 1477.4,867.8 1477.4,845.5" fill="#808000"/>
<polygon points="1602.7,907.2 1622.1,918.4 1622.1,940.7 1602.7,951.8 1583.4,940.7 1583.4,918.4" fill="#808000"/>
<path d="M542.9 331.7C542.9 331.7 542.9 331.7 560.6 332.3C578.3 333.0 613.6 334.3 648.9 351.8C684.2 369.3 719.6 402.9 754.9 435.0C790.2 467.2 825.6 498.0 860.9 520.7C896.2 543.5 931.5 558.2 966.9 571.2C1002.2 584.3 1037.5 595.7 1072.8 607.9C1108.2 620.2 1143.5 633.4 1178.8 653.0C1214.1 672.7 1249.5 698.8 1284.8 712.1C1320.1 725.4 1355.5 725.9 1390.8 733.3C1426.1 740.6 1461.4 754.8 1479.1 761.9C1496.8 769.1 1496.8 769.1 1496.8 769.1" fill="none" stroke="#960000" stroke-width="12.0" stroke-linecap="round" stroke-linejoin="round" stroke-dasharray="37.5 28.75 0 28.75" stroke-dashoffset="1.3"/>
<polygon points="542.9,308.3 536.8,323.2 520.7,324.4 533,334.9 529.2,350.6 542.9,342.2 556.7,350.6 552.9,334.9 565.2,324.4 549.1,323.2" fill="#960000"/>
<polygon points="648.9,312.3 642.7,327.2 626.7,328.5 638.9,338.9 635.2,354.6 648.9,346.2 662.7,354.6 658.9,338.9 671.2,328.5 655.1,327.2" fill="#960000"/>
<polygon points="754.9,413.1 748.7,428 732.6,429.2 744.9,439.7 741.1,455.4 754.9,447 768.7,455.4 764.9,439.7 777.2,429.2 761.1,428" fill="#960000"/>
<polygon points="860.9,505.3 854.7,520.2 838.6,521.5 850.9,532 847.1,547.7 860.9,539.2 874.6,547.7 870.9,532 883.1,521.5 867.1,520.2" fill="#960000"/>
<polygon points="966.9,549.5 960.7,564.4 944.6,565.7 956.9,576.2 953.1,591.8 966.9,583.4 980.6,591.8 976.8,576.2 989.1,565.7 973,564.4" fill="#960000"/>
<polygon points="1072.8,583.6 1066.7,598.5 1050.6,599.8 1062.9,610.3 1059.1,626 1072.8,617.5 1086.6,626 1082.8,610.3 1095.1,599.8 1079,598.5" fill="#960000"/>
<polygon points="1178.8,623.2 1172.6,638.1 1156.6,639.3 1168.8,649.8 1165.1,665.5 1178.8,657.1 1192.6,665.5 1188.8,649.8 1201.1,639.3 1185,638.1" fill="#960000"/>
<polygon points="1284.8,701.5 1278.6,716.4 1262.5,717.6 1274.8,728.1 1271,743.8 1284.8,735.4 1298.6,743.8 1294.8,728.1 1307.1,717.6 1291,716.4" fill="#960000"/>
<polygon points="1390.8,703 1384.6,717.9 1368.5,719.2 1380.8,729.7 1377,745.3 1390.8,736.9 1404.5,745.3 1400.8,729.7 1413,719.2 1397,717.9" fill="#960000"/>
<polygon points="1496.8,745.7 1490.6,760.6 1474.5,761.8 1486.8,772.3 1483,788 1496.8,779.6 1510.5,788 1506.7,772.3 1519,761.8 1502.9,760.6" fill="#960000"/>
<path d="M648.9 193.0C648.9 193.0 648.9 193.0 666.6 210.4C684.2 227.7 719.6 262.3 754.9 289.2C790.2 316.0 825.6 335.2 860.9 351.2C896.2 367.2 931.5 380.1 966.9 399.8C1002.2 419.4 1037.5 445.8 1072.8 456.4C1108.2 467.0 1143.5 461.8 1161.2 459.2C1178.8 456.6 1178.8 456.6 1178.8 456.6" fill="none" stroke="#9000ff" stroke-width="12.0" stroke-linecap="round" stroke-linejoin="round" stroke-dasharray="37.5 28.75 0 28.75" stroke-dashoffset="1.9"/>
<polygon points="648.9,170 627,185.9 635.4,211.6 662.4,211.6 670.8,185.9" fill="#9000ff"/>
<polygon points="754.9,273.9 733,289.8 741.4,315.5 768.4,315.5 776.8,289.8" fill="#9000ff"/>
<polygon points="860.9,331.3 839,347.2 847.4,372.9 874.4,372.9 882.8,347.2" fill="#9000ff"/>
<polygon points="966.9,370.1 945,385.9 953.3,411.7 980.4,411.7 988.7,385.9" fill="#9000ff"/>
<polygon points="1072.8,449.1 1051,465 1059.3,490.7 1086.4,490.7 1094.7,465" fill="#9000ff"/>
<polygon points="1178.8,433.6 1156.9,449.5 1165.3,475.2 1192.3,475.2 1200.7,449.5" fill="#9000ff"/>
<g fill="#000"><rect x="221" y="65" width="2128" height="8"/><rect x="221" y="1615" width="2128" height="9"/><rect x="221" y="65" width="9" height="1559"/><rect x="2340" y="65" width="9" height="1559"/></g>
<g fill="#000"><rect x="353.2" y="1602.5" width="8.5" height="12.5"/><rect x="485.7" y="1587" width="8.5" height="28"/><rect x="618.2" y="1602.5" width="8.5" height="12.5"/><rect x="750.6" y="1587" width="8.5" height="28"/><rect x="883.1" y="1602.5" width="8.5" height="12.5"/><rect x="1015.6" y="1587" width="8.5" height="28"/><rect x="1148.1" y="1602.5" width="8.5" height="12.5"/><rect x="1280.5" y="1587" width="8.5" height="28"/><rect x="1413" y="1602.5" width="8.5" height="12.5"/><rect x="1545.5" y="1587" width="8.5" height="28"/><rect x="1678" y="1602.5" width="8.5" height="12.5"/><rect x="1810.5" y="1587" width="8.5" height="28"/><rect x="1942.9" y="1602.5" width="8.5" height="12.5"/><rect x="2075.4" y="1587" width="8.5" height="28"/><rect x="2207.9" y="1602.5" width="8.5" height="12.5"/><rect x="230" y="1537.7" width="11.5" height="8.5"/><rect x="230" y="1460.2" width="27" height="8.5"/><rect x="230" y="1382.7" width="11.5" height="8.5"/><rect x="230" y="1305.2" width="27" height="8.5"/><rect x="230" y="1227.6" width="11.5" height="8.5"/><rect x="230" y="1150.1" width="27" height="8.5"/><rect x="230" y="1072.6" width="11.5" height="8.5"/><rect x="230" y="995" width="27" height="8.5"/><rect x="230" y="917.5" width="11.5" height="8.5"/><rect x="230" y="840" width="27" height="8.5"/><rect x="230" y="762.5" width="11.5" height="8.5"/><rect x="230" y="684.9" width="27" height="8.5"/><rect x="230" y="607.4" width="11.5" height="8.5"/><rect x="230" y="529.9" width="27" height="8.5"/><rect x="230" y="452.4" width="11.5" height="8.5"/><rect x="230" y="374.8" width="27" height="8.5"/><rect x="230" y="297.3" width="11.5" height="8.5"/><rect x="230" y="219.8" width="27" height="8.5"/><rect x="230" y="142.3" width="11.5" height="8.5"/></g>
<g font-family="Liberation Serif" font-weight="bold" font-size="70" fill="#000"><text x="191.5" y="1640.1" text-anchor="end">0</text><text x="191.5" y="1485" text-anchor="end">10</text><text x="191.5" y="1330" text-anchor="end">20</text><text x="191.5" y="1174.9" text-anchor="end">30</text><text x="191.5" y="1019.9" text-anchor="end">40</text><text x="191.5" y="864.9" text-anchor="end">50</text><text x="191.5" y="709.8" text-anchor="end">60</text><text x="191.5" y="554.7" text-anchor="end">70</text><text x="191.5" y="399.7" text-anchor="end">80</text><text x="191.5" y="244.6" text-anchor="end">90</text><text x="191.5" y="89.6" text-anchor="end">100</text><text x="225" y="1708" text-anchor="middle">0</text><text x="489.9" y="1708" text-anchor="middle">5</text><text x="754.9" y="1708" text-anchor="middle">10</text><text x="1019.9" y="1708" text-anchor="middle">15</text><text x="1284.8" y="1708" text-anchor="middle">20</text><text x="1549.8" y="1708" text-anchor="middle">25</text><text x="1814.7" y="1708" text-anchor="middle">30</text><text x="2079.7" y="1708" text-anchor="middle">35</text><text x="2344.6" y="1708" text-anchor="middle">40</text></g>
<text x="970.8" y="1795.8" font-family="Liberation Serif" font-weight="bold" font-size="84">Mass flow rate (g/s)</text>
<text transform="translate(71,794) rotate(-90)" font-family="Liberation Serif" fill="#000"><tspan x="0" y="0" font-size="84" font-weight="bold" font-style="italic">η</tspan><tspan x="44.8" y="22.9" font-size="61">2</tspan></text>
<text y="1913.5" font-family="Liberation Serif" fill="#000"><tspan x="1136.3" font-size="86">(</tspan><tspan x="1163" font-size="89" font-weight="bold">b</tspan><tspan x="1214.3" font-size="86">)</tspan></text>
<g font-family="Liberation Serif" font-weight="bold" font-size="84" fill="#000"><text x="1153.5" y="208.3">Solid: Compressor 1</text><text x="1153.4" y="312.1">Short dash dot: Compressor 2</text></g>
<line x1="485.5" y1="1358.4" x2="672.1" y2="1358.4" stroke="#000000" stroke-width="12.8" stroke-linecap="round"/>
<rect x="560.8" y="1340.4" width="36" height="36" fill="#000000"/>
<text x="692" y="1386.9" font-family="Liberation Serif" font-weight="bold" font-size="84" fill="#000">450 r/min</text>
<line x1="1103.5" y1="1358.4" x2="1290.1" y2="1358.4" stroke="#ff0000" stroke-width="12.8" stroke-linecap="round"/>
<circle cx="1196.8" cy="1358.4" r="20" fill="#ff0000"/>
<text x="1310" y="1386.9" font-family="Liberation Serif" font-weight="bold" font-size="84" fill="#000">750 r/min</text>
<line x1="1721.5" y1="1358.4" x2="1908.1" y2="1358.4" stroke="#00ff00" stroke-width="12.8" stroke-linecap="round"/>
<polygon points="1814.8,1330.9 1838.6,1372.1 1791,1372.1" fill="#00ff00"/>
<text x="1928" y="1386.9" font-family="Liberation Serif" font-weight="bold" font-size="84" fill="#000">1050 r/min</text>
<line x1="485.5" y1="1462.6" x2="672.1" y2="1462.6" stroke="#0000ff" stroke-width="12.8" stroke-linecap="round"/>
<polygon points="578.8,1490.1 602.6,1448.9 555,1448.9" fill="#0000ff"/>
<text x="692" y="1491.1" font-family="Liberation Serif" font-weight="bold" font-size="84" fill="#000">1350 r/min</text>
<line x1="1103.5" y1="1462.6" x2="1290.1" y2="1462.6" stroke="#00ffff" stroke-width="12.8" stroke-linecap="round"/>
<polygon points="1196.8,1438 1221.4,1462.6 1196.8,1487.2 1172.2,1462.6" fill="#00ffff"/>
<text x="1310" y="1491.1" font-family="Liberation Serif" font-weight="bold" font-size="84" fill="#000">1650 r/min</text>
<line x1="1721.5" y1="1462.6" x2="1908.1" y2="1462.6" stroke="#ff00ff" stroke-width="12.8" stroke-linecap="round"/>
<polygon points="1787.3,1462.6 1828.5,1438.8 1828.5,1486.4" fill="#ff00ff"/>
<text x="1928" y="1491.1" font-family="Liberation Serif" font-weight="bold" font-size="84" fill="#000">1950 r/min</text>
<line x1="485.5" y1="1567" x2="672.1" y2="1567" stroke="#808000" stroke-width="12.8" stroke-linecap="round"/>
<polygon points="578.8,1544.7 598.1,1555.8 598.1,1578.2 578.8,1589.3 559.5,1578.2 559.5,1555.8" fill="#808000"/>
<text x="692" y="1595.5" font-family="Liberation Serif" font-weight="bold" font-size="84" fill="#000">2250 r/min</text>
<line x1="1103.5" y1="1567" x2="1290.1" y2="1567" stroke="#960000" stroke-width="12.8" stroke-linecap="round"/>
<polygon points="1196.8,1543.6 1190.6,1558.5 1174.5,1559.8 1186.8,1570.2 1183,1585.9 1196.8,1577.5 1210.6,1585.9 1206.8,1570.2 1219.1,1559.8 1203,1558.5" fill="#960000"/>
<text x="1310" y="1595.5" font-family="Liberation Serif" font-weight="bold" font-size="84" fill="#000">2550 r/min</text>
<line x1="1721.5" y1="1567" x2="1908.1" y2="1567" stroke="#9000ff" stroke-width="12.8" stroke-linecap="round"/>
<polygon points="1814.8,1544 1792.9,1559.9 1801.3,1585.6 1828.3,1585.6 1836.7,1559.9" fill="#9000ff"/>
<text x="1928" y="1595.5" font-family="Liberation Serif" font-weight="bold" font-size="84" fill="#000">2850 r/min</text>
</svg>
</body></html>
